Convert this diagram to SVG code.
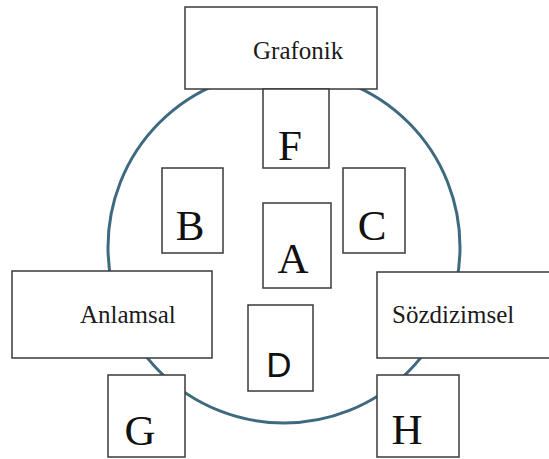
<svg xmlns="http://www.w3.org/2000/svg" width="549" height="459" viewBox="0 0 549 459">
<style>
.box{fill:#fff;stroke:#3a3a3a;stroke-width:1.5}
.ring{fill:none;stroke:#3e6a7f;stroke-width:3}
.lbl{font-family:"Liberation Serif","Times New Roman",serif;font-size:25px;fill:#1a1a1a}
.let{font-family:"Liberation Serif","Times New Roman",serif;font-size:43px;fill:#111;text-anchor:middle}
.sans{font-family:"Liberation Sans",Arial,sans-serif;font-size:35px;fill:#111;text-anchor:middle}
</style>
<rect width="549" height="459" fill="#fff"/>
<g id="connectors">
<circle class="ring" cx="284" cy="247" r="176"/>
</g>
<g id="grafonik"><rect class="box" x="185" y="7" width="192" height="82"/><text class="lbl" x="253" y="59">Grafonik</text></g>
<g id="F"><rect class="box" x="263" y="89" width="66" height="79"/><text class="let" x="290" y="160">F</text></g>
<g id="B"><rect class="box" x="162" y="168" width="61" height="85"/><text class="let" x="190" y="240">B</text></g>
<g id="C"><rect class="box" x="343" y="168" width="62" height="85"/><text class="let" x="372" y="240">C</text></g>
<g id="A"><rect class="box" x="263" y="203" width="68" height="85"/><text class="let" x="293" y="273">A</text></g>
<g id="D"><rect class="box" x="248" y="305" width="65" height="86"/><text class="sans" x="279" y="377">D</text></g>
<g id="anlamsal"><rect class="box" x="12" y="271" width="200" height="87"/><text class="lbl" x="80" y="323">Anlamsal</text></g>
<g id="sozdizimsel"><rect class="box" x="377" y="272" width="180" height="86"/><text class="lbl" x="392" y="323">Sözdizimsel</text></g>
<g id="G"><rect class="box" x="108" y="375" width="77" height="82"/><text class="let" x="140" y="445">G</text></g>
<g id="H"><rect class="box" x="377" y="375" width="82" height="82"/><text class="let" x="407" y="444">H</text></g>
</svg>
